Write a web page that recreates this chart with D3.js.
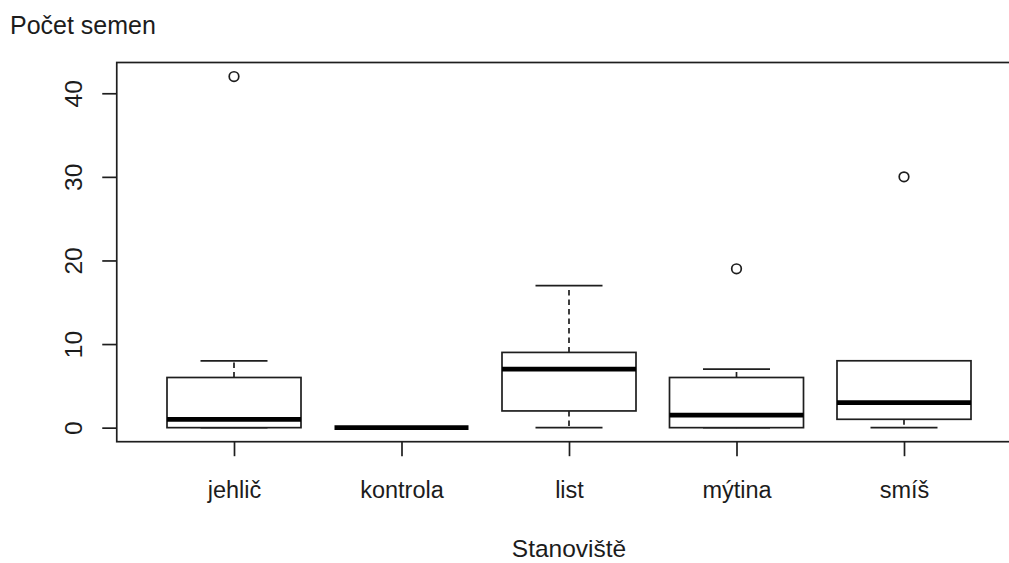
<!DOCTYPE html>
<html><head><meta charset="utf-8">
<script src="https://cdn.jsdelivr.net/npm/d3@7"></script>
<style>
html,body{margin:0;padding:0;background:#fff;}
text{font-family:"Liberation Sans",Arial,sans-serif;fill:#1c1c1c;}
</style></head>
<body>
<svg id="chart" width="1009" height="563"></svg>
<script>
const categories = ["jehlič","kontrola","list","mýtina","smíš"];
const lowerWhisker = [0, 0, 0, 0, 0];
const q1 = [0, 0, 2, 0, 1];
const medians = [1, 0, 7, 1.5, 3];
const q3 = [6, 0, 9, 6, 8];
const upperWhisker = [8, 0, 17, 7, 8];
const outliers = [[42], [], [], [19], [30]];
const yTicks = [0, 10, 20, 30, 40];
const yLabel = "Počet semen";
const xLabel = "Stanoviště";

const svg = d3.select("#chart");
const ink = "#1e1e1e";
const lw = 1.7;
const x = d3.scaleLinear().domain([0.3, 5.7]).range([116.75, 1021.25]);
const y = d3.scaleLinear().domain([-1.68, 43.68]).range([441.7, 62.5]);

// plot frame
svg.append("rect").attr("x", x(0.3)).attr("y", y(43.68))
  .attr("width", x(5.7) - x(0.3)).attr("height", y(-1.68) - y(43.68))
  .attr("fill", "none").attr("stroke", ink).attr("stroke-width", lw);

// y axis
const yAxis = d3.axisLeft(y).tickValues(yTicks).tickSize(14.5).tickPadding(0).tickFormat(d3.format("d"));
const gy = svg.append("g").attr("transform", `translate(${x(0.3)},0)`).call(yAxis);
gy.select(".domain").remove();
gy.selectAll(".tick line").attr("stroke", ink).attr("stroke-width", lw);
gy.selectAll(".tick text").remove();
gy.selectAll(".tick").append("text")
  .attr("transform", "translate(-35,0) rotate(-90)")
  .attr("text-anchor", "middle").attr("font-size", 24.5)
  .text(d => d3.format("d")(d));

// x axis
const xAxis = d3.axisBottom(x).tickValues(categories.map((c, i) => i + 1)).tickSize(14.5).tickPadding(0)
  .tickFormat((d) => categories[d - 1]);
const gx = svg.append("g").attr("transform", `translate(0,${y(-1.68)})`).call(xAxis);
gx.select(".domain").remove();
gx.selectAll(".tick line").attr("stroke", ink).attr("stroke-width", lw);
gx.selectAll(".tick text").attr("y", 56.5).attr("dy", 0).attr("font-size", 23.5)
  .attr("fill", "#1c1c1c").attr("font-family", '"Liberation Sans",Arial,sans-serif');

// boxes
const bw = 0.4, sw = 0.2;
categories.forEach((c, i) => {
  const cx = i + 1;
  const g = svg.append("g");
  // whiskers (dashed)
  g.append("line").attr("x1", x(cx)).attr("x2", x(cx)).attr("y1", y(q3[i])).attr("y2", y(upperWhisker[i]))
    .attr("stroke", ink).attr("stroke-width", lw).attr("stroke-dasharray", "5.5,4");
  g.append("line").attr("x1", x(cx)).attr("x2", x(cx)).attr("y1", y(q1[i])).attr("y2", y(lowerWhisker[i]))
    .attr("stroke", ink).attr("stroke-width", lw).attr("stroke-dasharray", "5.5,4");
  // caps
  [upperWhisker[i], lowerWhisker[i]].forEach(v => {
    g.append("line").attr("x1", x(cx - sw)).attr("x2", x(cx + sw)).attr("y1", y(v)).attr("y2", y(v))
      .attr("stroke", ink).attr("stroke-width", lw);
  });
  // box
  g.append("rect").attr("x", x(cx - bw)).attr("y", y(q3[i]))
    .attr("width", x(cx + bw) - x(cx - bw)).attr("height", Math.max(0, y(q1[i]) - y(q3[i])))
    .attr("fill", "#fff").attr("stroke", ink).attr("stroke-width", lw);
  // median
  g.append("line").attr("x1", x(cx - bw)).attr("x2", x(cx + bw)).attr("y1", y(medians[i])).attr("y2", y(medians[i]))
    .attr("stroke", "#000").attr("stroke-width", 4.8);
  // outliers
  g.selectAll("circle.o").data(outliers[i]).enter().append("circle")
    .attr("cx", x(cx)).attr("cy", d => y(d)).attr("r", 4.8)
    .attr("fill", "none").attr("stroke", ink).attr("stroke-width", lw);
});

// labels
svg.append("text").attr("x", 10).attr("y", 34).attr("font-size", 25).text(yLabel);
svg.append("text").attr("x", 569).attr("y", 557).attr("text-anchor", "middle")
  .attr("font-size", 24.5).text(xLabel);
</script>
</body></html>
